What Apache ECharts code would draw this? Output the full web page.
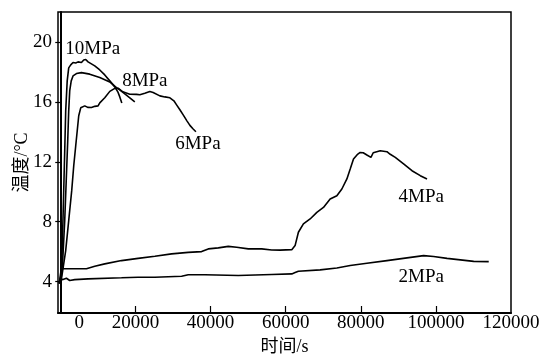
<!DOCTYPE html>
<html>
<head>
<meta charset="utf-8">
<script src="https://cdn.jsdelivr.net/npm/echarts@6/dist/echarts.min.js"></script>
<style>
  html, body { margin: 0; padding: 0; background: #fff; }
  #chart { width: 543px; height: 354px; }
</style>
</head>
<body>
<div id="chart"></div>
<script>
// Temperature (°C) over time (s) for each gas pressure; [time, temperature]
const curve10MPa = [
  [-280, 3.87], [390, 5.07], [650, 7.4], [920, 10.07], [1190, 12.73], [1450, 15.4],
  [1850, 17.4], [2250, 18.27], [2790, 18.47], [3400, 18.63], [4120, 18.6], [4730, 18.67],
  [5640, 18.63], [6250, 18.8], [6790, 18.83], [7400, 18.67], [9190, 18.4], [10520, 18.13],
  [11850, 17.8], [13190, 17.4], [14520, 17.0], [15320, 16.67], [15850, 16.33], [16390, 15.93]
];
const curve8MPa = [
  [120, 3.87], [650, 5.4], [1190, 8.07], [1590, 10.73], [1990, 13.4], [2250, 15.4],
  [2520, 16.73], [2920, 17.4], [3400, 17.73], [4310, 17.89], [5640, 17.95], [7850, 17.85],
  [10520, 17.63], [13190, 17.33], [14970, 16.95], [15850, 16.8], [17190, 16.53],
  [18520, 16.27], [19850, 16.0]
];
const curve6MPa = [
  [120, 3.87], [650, 4.73], [1450, 6.07], [2250, 8.07], [3050, 10.07], [3590, 11.73],
  [4120, 13.07], [4520, 14.07], [4920, 15.07], [5450, 15.6], [6520, 15.73], [7320, 15.63],
  [8310, 15.62], [9190, 15.7], [10070, 15.73], [10520, 15.93], [11850, 16.27], [13190, 16.7],
  [14520, 16.9], [15400, 16.91], [16650, 16.67], [18520, 16.51], [20310, 16.5], [21190, 16.47],
  [22520, 16.57], [23050, 16.7], [23850, 16.69], [24730, 16.62], [26520, 16.4], [27850, 16.33],
  [29190, 16.27], [30250, 16.07], [30970, 15.8], [31850, 15.47], [32730, 15.13], [33720, 14.73],
  [34520, 14.43], [35320, 14.2], [36120, 14.0]
];
const curve4MPa = [
  [-280, 3.87], [120, 4.33], [390, 4.85], [2520, 4.85], [6970, 4.85], [9190, 5.02],
  [11850, 5.18], [16310, 5.4], [20730, 5.55], [25190, 5.69], [29640, 5.85], [34070, 5.95],
  [37640, 6.0], [39400, 6.18], [42070, 6.25], [44730, 6.35], [46970, 6.29], [50070, 6.18],
  [53640, 6.18], [56310, 6.11], [58520, 6.1], [61640, 6.13], [62520, 6.4], [63400, 7.29],
  [64730, 7.85], [66520, 8.18], [68310, 8.62], [70070, 8.95], [71850, 9.51], [73640, 9.73],
  [74970, 10.18], [76310, 10.85], [77190, 11.51], [78070, 12.18], [79050, 12.47],
  [79850, 12.62], [80650, 12.6], [81640, 12.45], [82710, 12.29], [83320, 12.6], [83850, 12.67],
  [85190, 12.73], [86970, 12.67], [87850, 12.5], [89190, 12.29], [91400, 11.85],
  [93640, 11.4], [95850, 11.07], [97640, 10.85]
];
const curve2MPa = [
  [-280, 3.87], [0, 4.18], [730, 4.13], [1640, 4.22], [2520, 4.07], [3850, 4.13],
  [7400, 4.18], [16310, 4.25], [20730, 4.29], [25190, 4.29], [32310, 4.35], [34070, 4.45],
  [38520, 4.45], [47400, 4.4], [56310, 4.47], [61640, 4.51], [62520, 4.6], [63400, 4.69],
  [69190, 4.78], [73640, 4.91], [77190, 5.07], [81640, 5.22], [86970, 5.4], [92310, 5.58],
  [96740, 5.73], [99400, 5.67], [102970, 5.55], [106520, 5.45], [110070, 5.35], [114070, 5.33]
];

// Curve labels, placed in data units
const curveLabels = [
  { name: '10MPa', value: [8650, 19.53] },
  { name: '8MPa', value: [22520, 17.4] },
  { name: '6MPa', value: [36650, 13.2] },
  { name: '4MPa', value: [96120, 9.67] },
  { name: '2MPa', value: [96120, 4.33] }
];

const xTicks = [0, 20000, 40000, 60000, 80000, 100000, 120000];
const yTicks = [4, 8, 12, 16, 20];

const serif = '"Liberation Serif", "DejaVu Serif", serif';
const cjk = '"Liberation Serif", "Noto Sans CJK SC", serif';

const chart = echarts.init(document.getElementById('chart'), null, { renderer: 'canvas' });

function curve(data) {
  return {
    type: 'line',
    data: data,
    showSymbol: false,
    symbol: 'none',
    lineStyle: { color: '#000', width: 1.6 },
    animation: false,
    z: 3
  };
}

chart.setOption({
  animation: false,
  backgroundColor: '#fff',
  grid: {
    left: 58, right: 32, top: 12, bottom: 41,
    outerBoundsMode: 'none',
    show: true, borderColor: '#000', borderWidth: 1.5
  },
  xAxis: {
    type: 'value',
    min: -600,
    max: 120000,
    name: '时间/s',
    nameLocation: 'middle',
    nameGap: 21,
    nameTextStyle: { fontFamily: cjk, fontSize: 18, color: '#000' },
    splitLine: { show: false },
    axisLine: { show: true, lineStyle: { color: '#000', width: 2 } },
    axisTick: {
      show: true, inside: true, length: 7,
      customValues: xTicks.slice(1, -1),
      lineStyle: { color: '#000', width: 1.2 }
    },
    axisLabel: {
      customValues: xTicks,
      margin: 1,
      color: '#000',
      fontFamily: serif,
      fontSize: 19,
      formatter: function (v) {
        return v === 0 ? '{z|0}' : String(v);
      },
      rich: {
        z: { padding: [0, 0, 0, 38], fontFamily: serif, fontSize: 19, color: '#000' }
      }
    }
  },
  yAxis: {
    type: 'value',
    min: 1.9,
    max: 22,
    name: '温度/°C',
    nameLocation: 'middle',
    nameGap: 27,
    nameMoveOverlap: false,
    nameTextStyle: { fontFamily: cjk, fontSize: 18, color: '#000' },
    splitLine: { show: false },
    axisLine: { show: true, lineStyle: { color: '#000', width: 2 } },
    axisTick: {
      show: true, inside: false, length: 5,
      customValues: yTicks,
      lineStyle: { color: '#000', width: 1.2 }
    },
    axisLabel: {
      customValues: yTicks,
      margin: 6,
      color: '#000',
      fontFamily: serif,
      fontSize: 19
    }
  },
  series: [
    curve(curve10MPa),
    curve(curve8MPa),
    curve(curve6MPa),
    curve(curve4MPa),
    curve(curve2MPa),
    {
      type: 'scatter',
      data: curveLabels,
      symbolSize: 1,
      itemStyle: { color: 'rgba(0,0,0,0)' },
      label: {
        show: true,
        position: 'inside',
        formatter: '{b}',
        color: '#000',
        opacity: 1,
        textBorderWidth: 0,
        fontFamily: serif,
        fontSize: 19
      },
      emphasis: { disabled: true },
      silent: true,
      z: 4
    }
  ]
});
</script>
</body>
</html>
